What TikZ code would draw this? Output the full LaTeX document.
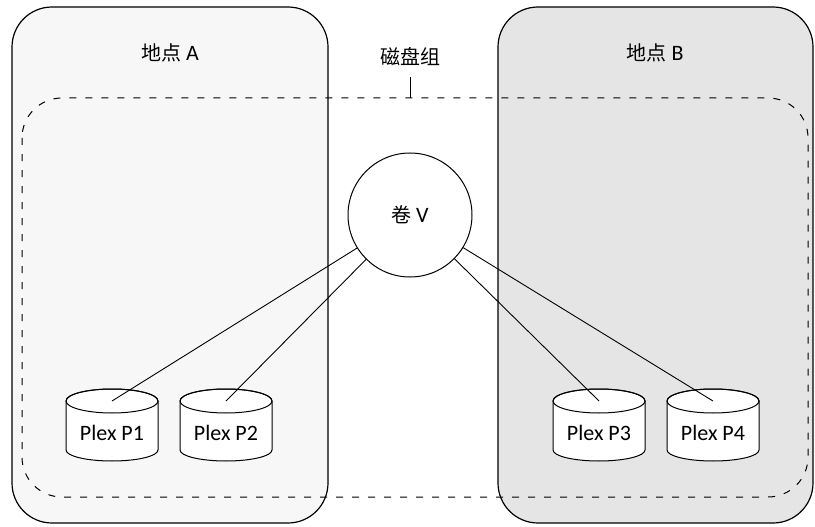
\documentclass[tikz,border=0pt]{standalone}
\usepackage{fontspec}
\setmainfont{Carlito}
\newfontfamily\cjkfam{Noto Sans CJK SC}
\newcommand\cjk[1]{{\fontsize{20}{24}\selectfont\cjkfam #1}}
\begin{document}
\begin{tikzpicture}[x=1pt,y=-1pt,
  site/.style={draw=black,line width=1.2pt,rounded corners=40pt},
  group/.style={draw=black,line width=1pt,dash pattern=on 7pt off 9pt,rounded corners=40pt},
  lbl/.style={font=\fontsize{22}{26}\selectfont,inner sep=0pt},
  vol/.style={circle,draw=black,line width=1pt,fill=white,minimum size=124pt,inner sep=0pt,font=\fontsize{22}{26}\selectfont},
  conn/.style={draw=black,line width=0.9pt},
  drumline/.style={draw=black,line width=1pt,fill=white}
]
\useasboundingbox (0,0) rectangle (815,527);
\newcommand\drum[3]{%
  \path[drumline] (#2-46,401) -- (#2-46,450) arc[start angle=180,end angle=360,x radius=46pt,y radius=11pt]
     -- (#2+46,401) arc[start angle=0,end angle=180,x radius=46pt,y radius=12pt] -- cycle;
  \draw[line width=1pt] (#2,401) ellipse[x radius=46pt,y radius=12pt];
  \coordinate (#1t) at (#2,401);
  \node[lbl] (#1) at (#2,433) {#3};
}
% sites
\path[site,fill=black!3] (12,7) rectangle (328,523);
\path[site,fill=black!10] (498,7) rectangle (813,523);
\node[lbl] (sa) at (170,53) {\cjk{地点} A};
\node[lbl] (sb) at (655,53) {\cjk{地点} B};
% disk group
\path[group] (22,98) rectangle (808,497);
\node[lbl] (dg) at (410,57) {\cjk{磁盘组}};
\coordinate (dgt) at (410,98);
\draw[line width=1pt] (410,77) -- (dgt);
% volume
\node[vol] (v) at (410,215) {\cjk{卷} V};
% plexes
\drum{p1}{112}{Plex P1}
\drum{p2}{226}{Plex P2}
\drum{p3}{599}{Plex P3}
\drum{p4}{713}{Plex P4}
\draw[conn] (v) -- (p1t);
\draw[conn] (v) -- (p2t);
\draw[conn] (v) -- (p3t);
\draw[conn] (v) -- (p4t);
\end{tikzpicture}
\end{document}
